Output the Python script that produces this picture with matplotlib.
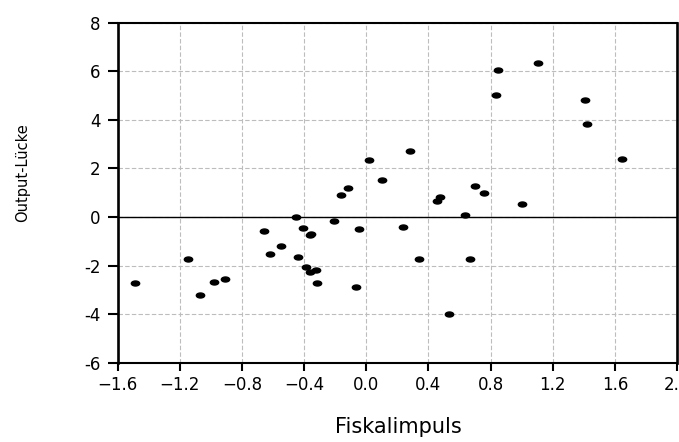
import matplotlib
matplotlib.use('Agg')
import matplotlib.pyplot as plt
import numpy as np
from matplotlib.path import Path
from matplotlib.transforms import Affine2D
from matplotlib.ticker import FuncFormatter
from matplotlib import font_manager

# data
fiskal = [-1.49, -1.15, -1.07, -0.98, -0.91, -0.655, -0.62, -0.55, -0.45, -0.44,
          -0.405, -0.39, -0.365, -0.355, -0.36, -0.325, -0.32, -0.205, -0.045, -0.065,
          0.235, -0.165, -0.115, 0.02, 0.10, 0.28, 0.85, 1.105, 0.835, 1.405,
          1.42, 1.645, 0.70, 0.76, 1.00, 0.455, 0.475, 0.635, 0.34, 0.665, 0.53]
output = [-2.73, -1.75, -3.21, -2.67, -2.57, -0.56, -1.52, -1.18, -0.02, -1.66,
          -0.45, -2.05, -0.73, -0.68, -2.28, -2.18, -2.73, -0.17, -0.51, -2.87,
          -0.43, 0.89, 1.19, 2.33, 1.53, 2.70, 6.06, 6.36, 5.02, 4.80,
          3.85, 2.37, 1.28, 1.00, 0.53, 0.64, 0.81, 0.07, -1.74, -1.72, -3.99]
xticks = [-1.6, -1.2, -0.8, -0.4, 0.0, 0.4, 0.8, 1.2, 1.6, 2.0]
yticks = [-6, -4, -2, 0, 2, 4, 6, 8]

plt.rcParams['font.family'] = ['DejaVu Sans']

# narrow face for the y label if there is one
names = set(f.name for f in font_manager.fontManager.ttflist)
if 'Liberation Sans Narrow' in names:
    ylab_font, ylab_size = 'Liberation Sans Narrow', 12
else:
    ylab_font, ylab_size = 'DejaVu Sans', 10.5

fig = plt.figure(figsize=(6.79, 4.42), dpi=100)
ax = fig.add_axes([0.1733, 0.1794, 0.8237, 0.7692])

# flat ellipse marker
ell = Path.unit_circle().transformed(Affine2D().scale(1.0, 0.6))

ax.grid(True, color='#bdbdbd', linestyle=(0, (4, 2)), linewidth=0.8)
ax.set_axisbelow(True)
ax.axhline(0, color='black', linewidth=1.0, zorder=2)
ax.plot(fiskal, output, linestyle='none', marker=ell, markersize=6.0,
        color='black', zorder=3)

ax.set_xlim(-1.6, 2.0)
ax.set_ylim(-6, 8)
ax.set_xticks(xticks)
ax.set_yticks(yticks)
ax.xaxis.set_major_formatter(FuncFormatter(lambda v, p: ('%.1f' % v).replace('-', '\u2212')))
ax.yaxis.set_major_formatter(FuncFormatter(lambda v, p: '%d' % v))

for s in ['left', 'right']:
    ax.spines[s].set_linewidth(1.9)
for s in ['top', 'bottom']:
    ax.spines[s].set_linewidth(1.5)

ax.tick_params(axis='x', direction='out', length=5.5, width=1.5, pad=4, labelsize=12)
ax.tick_params(axis='y', direction='out', length=7.5, width=1.5, pad=5, labelsize=12)

fig.text(0.586, 0.034, 'Fiskalimpuls', ha='center', va='center', fontsize=15)
fig.text(0.033, 0.609, 'Output-L\u00fccke', ha='center', va='center',
         rotation=90, fontsize=ylab_size, family=ylab_font)

plt.savefig('out.png', dpi=100)
